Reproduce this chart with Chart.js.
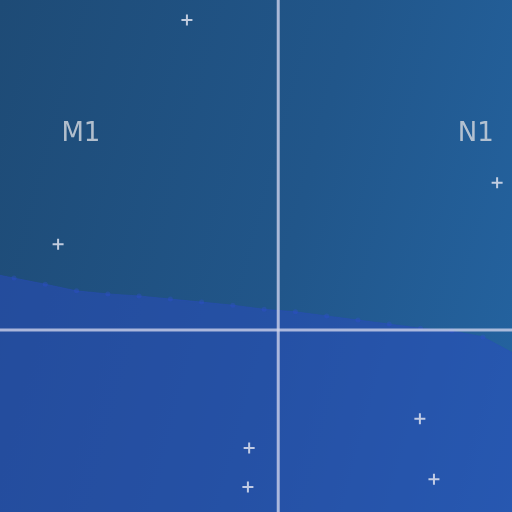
<!DOCTYPE html>
<html>
<head>
<meta charset="utf-8">
<script src="https://cdn.jsdelivr.net/npm/chart.js@4.4.1/dist/chart.umd.min.js"></script>
<style>
    html, body { margin: 0; padding: 0; }
    #wrap {
        width: 512px;
        height: 512px;
        background: linear-gradient(105deg, #1e4b76 0%, #21568a 55%, #2464a2 100%);
    }
</style>
</head>
<body>
<div id="wrap"><canvas id="chart"></canvas></div>
<script>
// límite (línea con relleno azul)
const limiteX = [-1, 0, 1, 2, 3, 4, 5, 6, 7, 8, 9, 10, 11, 12, 13, 14, 15, 16];
const limiteY = [46.9, 45.7, 44.5, 43.2, 42.6, 42.2, 41.6, 41.0, 40.4, 39.6, 39.1, 38.3, 37.5, 36.7, 35.9, 35.4, 34.2, 30.9];

// puntos (cruces)
const puntosX = [5.53, 1.41, 15.45, 7.52, 7.48, 12.98, 13.43];
const puntosY = [96.1, 52.3, 64.3, 12.5, 4.9, 18.2, 6.4];

// cruz central
const cruzX = 8.45;
const cruzY = 35.55;

// etiquetas de cuadrante
const etiquetas = ['M1', 'N1'];
const etiquetasX = [2.14, 14.77];
const etiquetasY = [73.8, 73.8];

const rangoX = [-0.448, 15.926];
const rangoY = [0, 100];

const toPoints = (xs, ys) => xs.map((x, i) => ({ x, y: ys[i] }));

const etiquetasPlugin = {
    id: 'etiquetas',
    afterDatasetsDraw(chart) {
        const { ctx, scales } = chart;
        ctx.save();
        ctx.font = '26px "DejaVu Sans"';
        ctx.fillStyle = 'rgba(205, 210, 218, 0.85)';
        ctx.textAlign = 'center';
        ctx.textBaseline = 'middle';
        etiquetas.forEach((t, i) => {
            ctx.fillText(t, scales.x.getPixelForValue(etiquetasX[i]), scales.y.getPixelForValue(etiquetasY[i]));
        });
        ctx.restore();
    }
};

new Chart(document.getElementById('chart'), {
    type: 'scatter',
    data: {
        datasets: [
            {
                label: 'puntos',
                data: toPoints(puntosX, puntosY),
                pointStyle: 'cross',
                pointRadius: 5.5,
                pointBorderWidth: 2,
                borderColor: 'rgba(222, 226, 238, 0.85)',
                backgroundColor: 'rgba(222, 226, 238, 0.85)'
            },
            {
                label: 'vertical',
                type: 'line',
                data: toPoints([cruzX, cruzX], rangoY),
                borderColor: 'rgba(205, 210, 235, 0.8)',
                borderWidth: 3,
                pointRadius: 0,
                fill: false
            },
            {
                label: 'horizontal',
                type: 'line',
                data: toPoints(rangoX, [cruzY, cruzY]),
                borderColor: 'rgba(205, 210, 235, 0.8)',
                borderWidth: 3,
                pointRadius: 0,
                fill: false
            },
            {
                label: 'limite',
                type: 'line',
                data: toPoints(limiteX, limiteY),
                borderColor: 'rgba(42, 76, 192, 0.4)',
                borderWidth: 1,
                backgroundColor: 'rgba(42, 76, 192, 0.5)',
                pointRadius: 2.5,
                pointBorderWidth: 0,
                pointBackgroundColor: 'rgba(48, 80, 210, 0.35)',
                tension: 0,
                fill: 'start'
            }
        ]
    },
    options: {
        responsive: true,
        maintainAspectRatio: false,
        animation: false,
        layout: { padding: 0, autoPadding: false },
        plugins: {
            legend: { display: false },
            tooltip: { enabled: false }
        },
        scales: {
            x: { type: 'linear', min: rangoX[0], max: rangoX[1], display: false },
            y: { type: 'linear', min: rangoY[0], max: rangoY[1], display: false }
        }
    },
    plugins: [etiquetasPlugin]
});
</script>
</body>
</html>
